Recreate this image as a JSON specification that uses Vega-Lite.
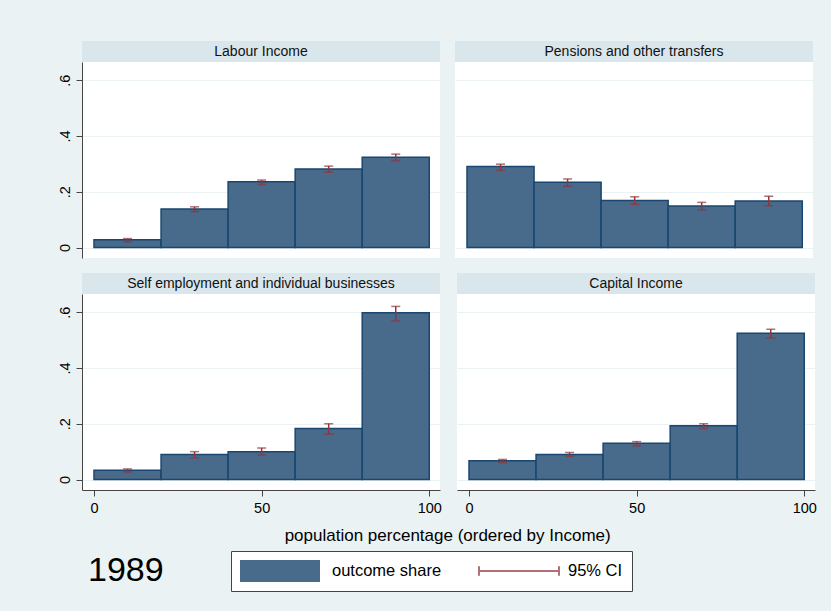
{
  "$schema": "https://vega.github.io/schema/vega-lite/v6.json",
  "background": "#EAF2F3",
  "padding": {"left": 56, "top": 41, "right": 17, "bottom": 21},
  "title": {"text": "1989", "orient": "bottom", "anchor": "start", "frame": "bounds", "fontSize": 34, "fontWeight": "normal", "color": "#000000", "offset": -38, "dx": 31},
  "data": {"values": [
    {"panel": "Labour Income", "lo": 0, "hi": 20, "mid": 10, "share": 0.0275, "ci_lo": 0.020, "ci_hi": 0.032},
    {"panel": "Labour Income", "lo": 20, "hi": 40, "mid": 30, "share": 0.138, "ci_lo": 0.129, "ci_hi": 0.146},
    {"panel": "Labour Income", "lo": 40, "hi": 60, "mid": 50, "share": 0.236, "ci_lo": 0.226, "ci_hi": 0.242},
    {"panel": "Labour Income", "lo": 60, "hi": 80, "mid": 70, "share": 0.282, "ci_lo": 0.270, "ci_hi": 0.292},
    {"panel": "Labour Income", "lo": 80, "hi": 100, "mid": 90, "share": 0.324, "ci_lo": 0.311, "ci_hi": 0.335},
    {"panel": "Pensions and other transfers", "lo": 0, "hi": 20, "mid": 10, "share": 0.291, "ci_lo": 0.277, "ci_hi": 0.299},
    {"panel": "Pensions and other transfers", "lo": 20, "hi": 40, "mid": 30, "share": 0.234, "ci_lo": 0.220, "ci_hi": 0.246},
    {"panel": "Pensions and other transfers", "lo": 40, "hi": 60, "mid": 50, "share": 0.169, "ci_lo": 0.155, "ci_hi": 0.182},
    {"panel": "Pensions and other transfers", "lo": 60, "hi": 80, "mid": 70, "share": 0.149, "ci_lo": 0.135, "ci_hi": 0.162},
    {"panel": "Pensions and other transfers", "lo": 80, "hi": 100, "mid": 90, "share": 0.167, "ci_lo": 0.150, "ci_hi": 0.184},
    {"panel": "Self employment and individual businesses", "lo": 0, "hi": 20, "mid": 10, "share": 0.033, "ci_lo": 0.027, "ci_hi": 0.038},
    {"panel": "Self employment and individual businesses", "lo": 20, "hi": 40, "mid": 30, "share": 0.090, "ci_lo": 0.078, "ci_hi": 0.100},
    {"panel": "Self employment and individual businesses", "lo": 40, "hi": 60, "mid": 50, "share": 0.100, "ci_lo": 0.088, "ci_hi": 0.113},
    {"panel": "Self employment and individual businesses", "lo": 60, "hi": 80, "mid": 70, "share": 0.183, "ci_lo": 0.163, "ci_hi": 0.200},
    {"panel": "Self employment and individual businesses", "lo": 80, "hi": 100, "mid": 90, "share": 0.598, "ci_lo": 0.569, "ci_hi": 0.621},
    {"panel": "Capital Income", "lo": 0, "hi": 20, "mid": 10, "share": 0.067, "ci_lo": 0.061, "ci_hi": 0.072},
    {"panel": "Capital Income", "lo": 20, "hi": 40, "mid": 30, "share": 0.090, "ci_lo": 0.083, "ci_hi": 0.097},
    {"panel": "Capital Income", "lo": 40, "hi": 60, "mid": 50, "share": 0.130, "ci_lo": 0.121, "ci_hi": 0.136},
    {"panel": "Capital Income", "lo": 60, "hi": 80, "mid": 70, "share": 0.193, "ci_lo": 0.183, "ci_hi": 0.200},
    {"panel": "Capital Income", "lo": 80, "hi": 100, "mid": 90, "share": 0.525, "ci_lo": 0.508, "ci_hi": 0.539}
  ]},
  "spacing": 15,
  "align": "each",
  "vconcat": [
    {
      "spacing": 15,
      "align": "each",
      "hconcat": [
        {
          "spacing": 0, "align": "each",
          "vconcat": [
            {"width": 358, "height": 21, "view": {"fill": "#D9E6EB", "stroke": null},
             "transform": [{"filter": {"field": "panel", "equal": "Labour Income"}}, {"aggregate": [{"op": "count", "as": "n"}], "groupby": ["panel"]}],
             "mark": {"type": "text", "fontSize": 14, "color": "#111111", "baseline": "middle", "align": "center"},
             "encoding": {"text": {"field": "panel", "type": "nominal"}}},
            {"width": 358, "height": 196, "view": {"fill": "white", "stroke": null},
             "transform": [{"filter": {"field": "panel", "equal": "Labour Income"}}],
             "layer": [
               {"mark": {"type": "bar", "stroke": "#1A476F", "strokeWidth": 1.5},
                "encoding": {
                  "x": {"field": "lo", "type": "quantitative", "scale": {"domain": [-3.58, 103.2], "nice": false, "zero": false}, "axis": null},
                  "x2": {"field": "hi"},
                  "y": {"field": "share", "type": "quantitative", "scale": {"domain": [-0.0376, 0.6655], "nice": false, "zero": false},
                        "axis": {"values": [0, 0.2, 0.4, 0.6], "title": null, "labelExpr": "datum.value == 0 ? '0' : replace(format(datum.value, '.1f'), '0.', '.')", "labelAngle": -90, "labelAlign": "center", "labelBaseline": "bottom", "tickSize": 6, "labelPadding": 4, "labelFontSize": 14.5, "grid": true, "gridColor": "#EAF2F3", "domainColor": "#444444", "tickColor": "#444444", "labelColor": "#000000"}},
                  "y2": {"datum": 0},
                  "fill": {"datum": "outcome share", "type": "nominal", "scale": {"domain": ["outcome share", "95% CI"], "range": ["#486A8B", "transparent"]},
                    "legend": {"orient": "none", "legendX": 149, "legendY": 510, "zindex": 1, "direction": "horizontal", "title": null, "symbolSize": 6400, "clipHeight": 22, "symbolType": "M-1,-0.275H1V0.275H-1Z", "symbolStrokeColor": "transparent", "symbolStrokeWidth": 0, "symbolOpacity": 1, "labelFontSize": 16.5, "labelColor": "#000000", "labelOffset": 12, "columnPadding": 34, "padding": 9, "strokeColor": "#444444", "fillColor": "white"}}
                }},
               {"mark": {"type": "errorbar", "ticks": {"size": 9, "thickness": 1.5}, "thickness": 1.5},
                "encoding": {"x": {"field": "mid", "type": "quantitative"}, "y": {"field": "ci_lo", "type": "quantitative"}, "y2": {"field": "ci_hi"},
                  "color": {"datum": "95% CI", "type": "nominal", "scale": {"domain": ["95% CI"], "range": ["#90353B"]},
                    "legend": {"orient": "none", "legendX": 396, "legendY": 519, "zindex": 2, "direction": "horizontal", "title": null, "symbolSize": 6400, "clipHeight": 22, "symbolType": "M-1,0H1M-1,-0.12V0.12M1,-0.12V0.12", "symbolStrokeWidth": 2, "symbolFillColor": "transparent", "symbolOpacity": 1, "labelExpr": "''", "labelFontSize": 16.5, "padding": 0}}}}
             ]}
          ]
        },
        {
          "spacing": 0, "align": "each",
          "vconcat": [
            {"width": 358, "height": 21, "view": {"fill": "#D9E6EB", "stroke": null},
             "transform": [{"filter": {"field": "panel", "equal": "Pensions and other transfers"}}, {"aggregate": [{"op": "count", "as": "n"}], "groupby": ["panel"]}],
             "mark": {"type": "text", "fontSize": 14, "color": "#111111", "baseline": "middle", "align": "center"},
             "encoding": {"text": {"field": "panel", "type": "nominal"}}},
            {"width": 358, "height": 196, "view": {"fill": "white", "stroke": null},
             "transform": [{"filter": {"field": "panel", "equal": "Pensions and other transfers"}}],
             "layer": [
               {"mark": {"type": "bar", "stroke": "#1A476F", "strokeWidth": 1.5},
                "encoding": {
                  "x": {"field": "lo", "type": "quantitative", "scale": {"domain": [-3.58, 103.2], "nice": false, "zero": false}, "axis": null},
                  "x2": {"field": "hi"},
                  "y": {"field": "share", "type": "quantitative", "scale": {"domain": [-0.0376, 0.6655], "nice": false, "zero": false},
                        "axis": {"values": [0, 0.2, 0.4, 0.6], "title": null, "labels": false, "ticks": false, "domain": false, "grid": true, "gridColor": "#EAF2F3"}},
                  "y2": {"datum": 0},
                  "fill": {"datum": "outcome share", "type": "nominal"}
                }},
               {"mark": {"type": "errorbar", "ticks": {"size": 9, "thickness": 1.5}, "thickness": 1.5},
                "encoding": {"x": {"field": "mid", "type": "quantitative"}, "y": {"field": "ci_lo", "type": "quantitative"}, "y2": {"field": "ci_hi"}, "color": {"datum": "95% CI", "type": "nominal"}}}
             ]}
          ]
        }
      ]
    },
    {
      "spacing": 15,
      "align": "each",
      "title": {"text": "population percentage (ordered by Income)", "orient": "bottom", "anchor": "middle", "fontSize": 17, "fontWeight": "normal", "color": "#000000", "offset": 13, "dx": 11},
      "hconcat": [
        {
          "spacing": 0, "align": "each",
          "vconcat": [
            {"width": 358, "height": 21, "view": {"fill": "#D9E6EB", "stroke": null},
             "transform": [{"filter": {"field": "panel", "equal": "Self employment and individual businesses"}}, {"aggregate": [{"op": "count", "as": "n"}], "groupby": ["panel"]}],
             "mark": {"type": "text", "fontSize": 14, "color": "#111111", "baseline": "middle", "align": "center"},
             "encoding": {"text": {"field": "panel", "type": "nominal"}}},
            {"width": 358, "height": 196, "view": {"fill": "white", "stroke": null},
             "transform": [{"filter": {"field": "panel", "equal": "Self employment and individual businesses"}}],
             "layer": [
               {"mark": {"type": "bar", "stroke": "#1A476F", "strokeWidth": 1.5},
                "encoding": {
                  "x": {"field": "lo", "type": "quantitative", "scale": {"domain": [-3.58, 103.2], "nice": false, "zero": false},
                        "axis": {"values": [0, 50, 100], "title": null, "grid": false, "tickSize": 6, "labelPadding": 5, "labelFontSize": 14.5, "domainColor": "#444444", "tickColor": "#444444", "labelColor": "#000000"}},
                  "x2": {"field": "hi"},
                  "y": {"field": "share", "type": "quantitative", "scale": {"domain": [-0.0376, 0.6655], "nice": false, "zero": false},
                        "axis": {"values": [0, 0.2, 0.4, 0.6], "title": null, "labelExpr": "datum.value == 0 ? '0' : replace(format(datum.value, '.1f'), '0.', '.')", "labelAngle": -90, "labelAlign": "center", "labelBaseline": "bottom", "tickSize": 6, "labelPadding": 4, "labelFontSize": 14.5, "grid": true, "gridColor": "#EAF2F3", "domainColor": "#444444", "tickColor": "#444444", "labelColor": "#000000"}},
                  "y2": {"datum": 0},
                  "fill": {"datum": "outcome share", "type": "nominal"}
                }},
               {"mark": {"type": "errorbar", "ticks": {"size": 9, "thickness": 1.5}, "thickness": 1.5},
                "encoding": {"x": {"field": "mid", "type": "quantitative"}, "y": {"field": "ci_lo", "type": "quantitative"}, "y2": {"field": "ci_hi"}, "color": {"datum": "95% CI", "type": "nominal"}}}
             ]}
          ]
        },
        {
          "spacing": 0, "align": "each",
          "vconcat": [
            {"width": 358, "height": 21, "view": {"fill": "#D9E6EB", "stroke": null},
             "transform": [{"filter": {"field": "panel", "equal": "Capital Income"}}, {"aggregate": [{"op": "count", "as": "n"}], "groupby": ["panel"]}],
             "mark": {"type": "text", "fontSize": 14, "color": "#111111", "baseline": "middle", "align": "center"},
             "encoding": {"text": {"field": "panel", "type": "nominal"}}},
            {"width": 358, "height": 196, "view": {"fill": "white", "stroke": null},
             "transform": [{"filter": {"field": "panel", "equal": "Capital Income"}}],
             "layer": [
               {"mark": {"type": "bar", "stroke": "#1A476F", "strokeWidth": 1.5},
                "encoding": {
                  "x": {"field": "lo", "type": "quantitative", "scale": {"domain": [-3.58, 103.2], "nice": false, "zero": false},
                        "axis": {"values": [0, 50, 100], "title": null, "grid": false, "tickSize": 6, "labelPadding": 5, "labelFontSize": 14.5, "domainColor": "#444444", "tickColor": "#444444", "labelColor": "#000000"}},
                  "x2": {"field": "hi"},
                  "y": {"field": "share", "type": "quantitative", "scale": {"domain": [-0.0376, 0.6655], "nice": false, "zero": false},
                        "axis": {"values": [0, 0.2, 0.4, 0.6], "title": null, "labels": false, "ticks": false, "domain": false, "grid": true, "gridColor": "#EAF2F3"}},
                  "y2": {"datum": 0},
                  "fill": {"datum": "outcome share", "type": "nominal"}
                }},
               {"mark": {"type": "errorbar", "ticks": {"size": 9, "thickness": 1.5}, "thickness": 1.5},
                "encoding": {"x": {"field": "mid", "type": "quantitative"}, "y": {"field": "ci_lo", "type": "quantitative"}, "y2": {"field": "ci_hi"}, "color": {"datum": "95% CI", "type": "nominal"}}}
             ]}
          ]
        }
      ]
    }
  ],
  "config": {
    "font": "Liberation Sans",
    "view": {"stroke": null},
    "axis": {"labelFont": "Liberation Sans", "domainWidth": 1, "tickWidth": 1}
  }
}
